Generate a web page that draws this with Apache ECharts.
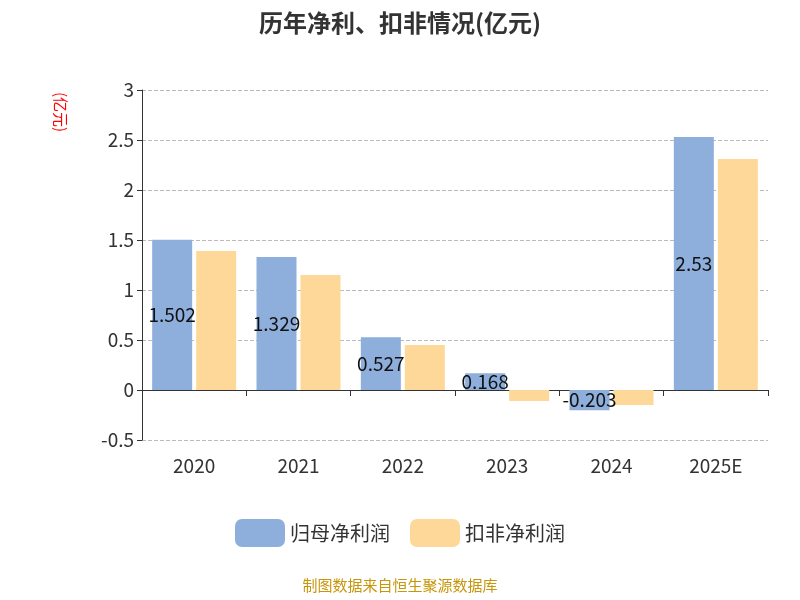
<!DOCTYPE html><html><head><meta charset="utf-8"><script src="https://cdn.jsdelivr.net/npm/echarts@6/dist/echarts.min.js"></script></head><body style="margin:0"><div id="c" style="width:800px;height:600px"></div><script>
const categories=['2020','2021','2022','2023','2024','2025E'];
const netProfit=[1.502,1.329,0.527,0.168,-0.203,2.53];
const deductedProfit=[1.39,1.15,0.45,-0.11,-0.15,2.31];
const c=echarts.init(document.getElementById('c'));
c.setOption({
textStyle:{fontFamily:'Noto Sans CJK SC'},
title:{text:'历年净利、扣非情况(亿元)',left:'center',top:6,textStyle:{fontSize:24,fontWeight:'bold',color:'#333'}},
grid:{left:142,right:32,top:90,bottom:160},
legend:{bottom:48,itemWidth:50,itemHeight:28,itemGap:20,textStyle:{fontSize:20,color:'#333'}},
graphic:[{type:'text',left:'center',top:578,style:{text:'制图数据来自恒生聚源数据库',fill:'#c8960a',fontSize:15,fontFamily:'Noto Sans CJK SC'}},
{type:'text',x:68,y:92,rotation:-Math.PI/2,style:{text:'(亿元)',fill:'red',fontSize:15,fontFamily:'Noto Sans CJK SC'}}],
xAxis:{type:'category',data:categories,axisLine:{onZero:true,lineStyle:{color:'#333'}},axisTick:{show:true,length:6},axisLabel:{margin:16,fontSize:19,color:'#333'}},
yAxis:{type:'value',min:-0.5,max:3,interval:0.5,
 axisLine:{show:true,lineStyle:{color:'#333'}},axisTick:{show:true},axisLabel:{fontSize:19,color:'#333'},
 splitLine:{lineStyle:{type:'dashed',color:'#bbb'}}},
series:[
{name:'归母净利润',type:'bar',data:netProfit,barWidth:40,barGap:'10%',itemStyle:{color:'#8eaedb'},label:{show:true,position:'inside',color:'#111',fontSize:19}},
{name:'扣非净利润',type:'bar',data:deductedProfit,barWidth:40,itemStyle:{color:'#fed899'}}
]});
</script></body></html>
